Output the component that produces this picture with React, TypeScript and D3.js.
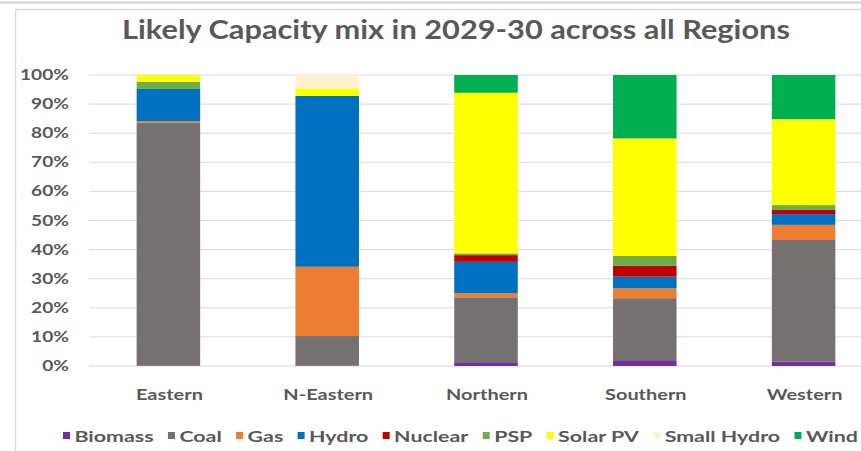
import React, { useEffect, useRef } from "react";
import * as d3 from "d3";

const regions = ["Eastern", "N-Eastern", "Northern", "Southern", "Western"];
const seriesNames = ["Biomass", "Coal", "Gas", "Hydro", "Nuclear", "PSP", "Solar PV", "Small Hydro", "Wind"];
const seriesColors = ["#7030A0", "#767171", "#ED7D31", "#0070C0", "#C00000", "#70AD47", "#FFFF00", "#FFF2CC", "#00B050"];
// share (%) per region, in series order
const biomass = [0.2, 0.2, 1.3, 2.0, 1.5];
const coal = [83.5, 10.1, 22.3, 21.3, 41.8];
const gas = [0.5, 23.8, 1.4, 3.4, 5.2];
const hydro = [11.0, 58.7, 10.8, 4.0, 3.7];
const nuclear = [0, 0, 2.3, 3.7, 1.4];
const psp = [2.5, 0, 0.6, 3.4, 1.7];
const solar = [2.3, 2.6, 55.2, 40.4, 29.5];
const smallHydro = [0, 4.6, 0, 0, 0];
const wind = [0, 0, 6.1, 21.8, 15.2];
const yTicks = [0, 0.1, 0.2, 0.3, 0.4, 0.5, 0.6, 0.7, 0.8, 0.9, 1.0];
const title = "Likely Capacity mix in 2029-30 across all Regions";

const seriesValues = [biomass, coal, gas, hydro, nuclear, psp, solar, smallHydro, wind];

const W = 861;
const H = 451;
const FONT = "Lato, 'DejaVu Sans', sans-serif";
const TEXT = "#595959";

const len = (sel: any) => (sel.node() as SVGTextElement).getComputedTextLength();

export default function App() {
  const ref = useRef<SVGSVGElement>(null);

  useEffect(() => {
    const svg = d3.select(ref.current);
    svg.selectAll("*").remove();

    const rows = regions.map((r, i) => {
      const o: any = { region: r };
      seriesNames.forEach((s, j) => (o[s] = seriesValues[j][i]));
      return o;
    });
    const stacked = d3.stack().keys(seriesNames)(rows);

    const x = d3.scaleBand().domain(regions).range([89, 883]).paddingInner(0.6).paddingOuter(0.3);
    const y = d3.scaleLinear().domain([0, 1]).range([366, 75]);

    svg.append("rect").attr("width", W).attr("height", H).attr("fill", "#fff");
    svg.append("line").attr("x1", 0).attr("x2", W).attr("y1", 2.5).attr("y2", 2.5).attr("stroke", "#d0d0d0").attr("stroke-width", 2);
    svg.append("rect").attr("x", 15.5).attr("y", 9.5).attr("width", 900).attr("height", 500)
      .attr("fill", "none").attr("stroke", "#d9d9d9").attr("stroke-width", 1.5);

    // title, stretched horizontally like the source
    const tg = svg.append("g");
    const tt = tg.append("text").attr("x", 0).attr("y", 0).attr("text-anchor", "middle")
      .attr("font-family", FONT).attr("font-weight", 700).attr("font-size", 27).attr("fill", TEXT)
      .text(title);
    tg.attr("transform", `translate(456,39) scale(${668 / len(tt)},1)`);

    const grid = svg.append("g");
    yTicks.forEach((t) => {
      grid.append("line").attr("x1", 89).attr("x2", 883).attr("y1", y(t)).attr("y2", y(t))
        .attr("stroke", "#d9d9d9").attr("stroke-width", 1);
    });
    const yl = yTicks.map((t) => {
      const gg = svg.append("g");
      const tx = gg.append("text").attr("x", 0).attr("y", 0).attr("text-anchor", "end")
        .attr("font-family", FONT).attr("font-weight", 700).attr("font-size", 15).attr("fill", TEXT)
        .text(d3.format(".0%")(t));
      return { gg, tx, t };
    });
    const ysx = 49 / len(yl[yl.length - 1].tx);
    yl.forEach((d) => d.gg.attr("transform", `translate(69,${y(d.t) + 5}) scale(${ysx},1)`));

    const g = svg.append("g");
    stacked.forEach((layer, li) => {
      g.selectAll(null).data(layer).enter().append("rect")
        .attr("x", (d: any) => x(d.data.region)!)
        .attr("width", x.bandwidth())
        .attr("y", (d: any) => y(d[1] / 100))
        .attr("height", (d: any) => Math.max(0, y(d[0] / 100) - y(d[1] / 100)))
        .attr("fill", seriesColors[li]);
    });

    const xl = regions.map((r) => {
      const gg = svg.append("g");
      const tx = gg.append("text").attr("x", 0).attr("y", 0).attr("text-anchor", "middle")
        .attr("font-family", FONT).attr("font-weight", 700).attr("font-size", 16).attr("fill", TEXT)
        .text(r);
      return { gg, tx, r };
    });
    const xsx = 67 / len(xl[0].tx);
    xl.forEach((d) => d.gg.attr("transform", `translate(${x(d.r)! + x.bandwidth() / 2 + 1},400) scale(${xsx},1)`));

    // legend: measure, then stretch to the legend's width
    const leg = svg.append("g");
    const items: any[] = [];
    seriesNames.forEach((s, i) => {
      const it = leg.append("g");
      const sq = it.append("rect").attr("x", 0).attr("y", -10).attr("width", 7).attr("height", 7).attr("fill", seriesColors[i]);
      const t = it.append("text").attr("x", 8).attr("y", 0)
        .attr("font-family", FONT).attr("font-weight", 700).attr("font-size", 15).attr("fill", TEXT)
        .text(s);
      items.push({ it, t, s, sq });
    });
    const gap = 10;
    const target = 795;
    let cx = 0;
    items.forEach((d) => {
      d.it.attr("transform", `translate(${cx},0)`);
      cx += 8 + len(d.t) + gap;
    });
    const total = cx - gap;
    const lsx = target / total;
    items.forEach((d) => d.sq.attr("width", 7 / lsx));
    leg.attr("transform", `translate(63,442) scale(${lsx},1)`);
  }, []);

  return (
    <svg ref={ref} width={W} height={H} style={{ position: "absolute", left: 0, top: 0, display: "block" }} />
  );
}
